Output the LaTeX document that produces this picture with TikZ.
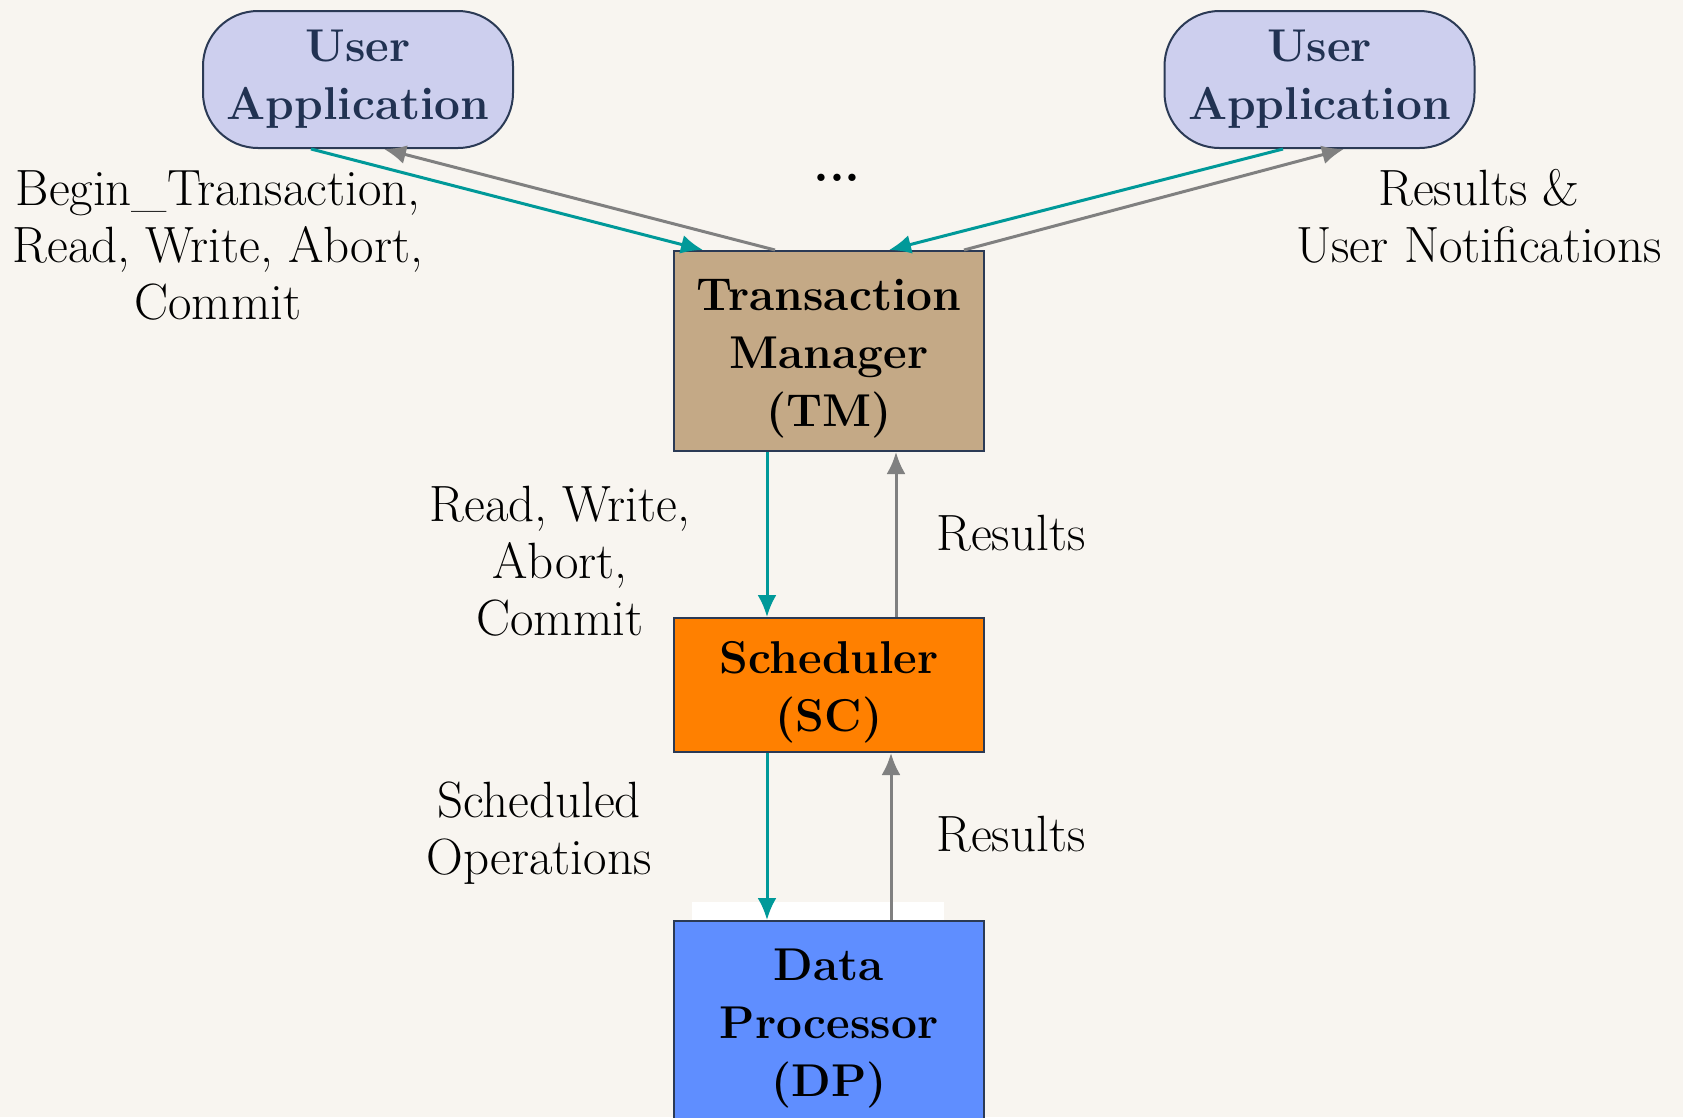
\documentclass[tikz,border=0pt]{standalone}
\usetikzlibrary{arrows.meta}

\definecolor{paper}{HTML}{F8F5F0}
\definecolor{appfill}{HTML}{CDCFEE}
\definecolor{navy}{HTML}{213252}
\definecolor{edge}{HTML}{2B3A55}
\definecolor{tmfill}{HTML}{C4A986}
\definecolor{scfill}{HTML}{FF8000}
\definecolor{dpfill}{HTML}{5F8EFF}
\definecolor{callcol}{HTML}{009999}
\definecolor{replycol}{HTML}{808080}
\newcommand{\topgap}{\rule{0pt}{46pt}}

\begin{document}
\begin{tikzpicture}
      [
        x=1pt, y=-1pt,
        box/.style={draw=edge, line width=2pt, minimum width=310pt, inner sep=0pt,
          align=center, font=\fontsize{46}{58}\selectfont\bfseries},
        app/.style={box, rounded corners=55pt, fill=appfill, text=navy, minimum height=137pt},
        lbl/.style={align=center, font=\fontsize{51}{57}\selectfont},
        call/.style={-{Latex[length=22pt,width=19pt]}, line width=3pt, draw=callcol, fill=callcol},
        reply/.style={-{Latex[length=22pt,width=19pt]}, line width=3pt, draw=replycol, fill=replycol}
      ]
      \useasboundingbox (0,0) rectangle (1683,1117);
      \clip (0,0) rectangle (1683,1117);
      \fill [paper] (0,0) rectangle (1683,1117);
      % white strip over DP
      \fill [white] (692,902) rectangle (944,921);
      % boxes
      \node [app] (ua1) at (358,79.5) {User\\Application};
      \node [app] (ua2) at (1319.5,79.5) {User\\Application};
      \node [box, fill=tmfill, minimum height=200pt] (tm) at (829,351) {\topgap Transaction\\Manager\\(TM)};
      \node [box, fill=scfill, minimum height=134pt] (sc) at (829,685) {\topgap Scheduler\\(SC)};
      \node [box, fill=dpfill, minimum height=200pt] (dp) at (829,1021) {\topgap Data\\Processor\\(DP)};
      % labels
      \node [lbl] (dots) at (837,178) {\textbf{...}};
      \node [lbl] (req) at (218,245) {Begin\_Transaction,\\Read, Write, Abort,\\Commit};
      \node [lbl] (notif) at (1479,216) {Results \&\\User Notifications};
      \node [lbl] (ops) at (560,561) {Read, Write,\\Abort,\\Commit};
      \node [lbl] (res1) at (1011,533) {Results};
      \node [lbl] (sched) at (539,833) {Scheduled\\Operations};
      \node [lbl] (res2) at (1011,834) {Results};
      % edges
      \draw [call] ([xshift=-47pt]ua1.south) -- ([xshift=-126pt]tm.north);
      \draw [reply] ([xshift=-54pt]tm.north) -- ([xshift=26pt]ua1.south);
      \draw [call] ([xshift=-36.5pt]ua2.south) -- ([xshift=60pt]tm.north);
      \draw [reply] ([xshift=135pt]tm.north) -- ([xshift=24.5pt]ua2.south);
      \draw [call] ([xshift=-62pt]tm.south) -- ([xshift=-62pt]sc.north);
      \draw [reply] ([xshift=67pt]sc.north) -- ([xshift=67pt]tm.south);
      \draw [call] ([xshift=-62pt]sc.south) -- ([xshift=-62pt]dp.north);
      \draw [reply] ([xshift=62pt]dp.north) -- ([xshift=62pt]sc.south);
    \end{tikzpicture}
\end{document}
